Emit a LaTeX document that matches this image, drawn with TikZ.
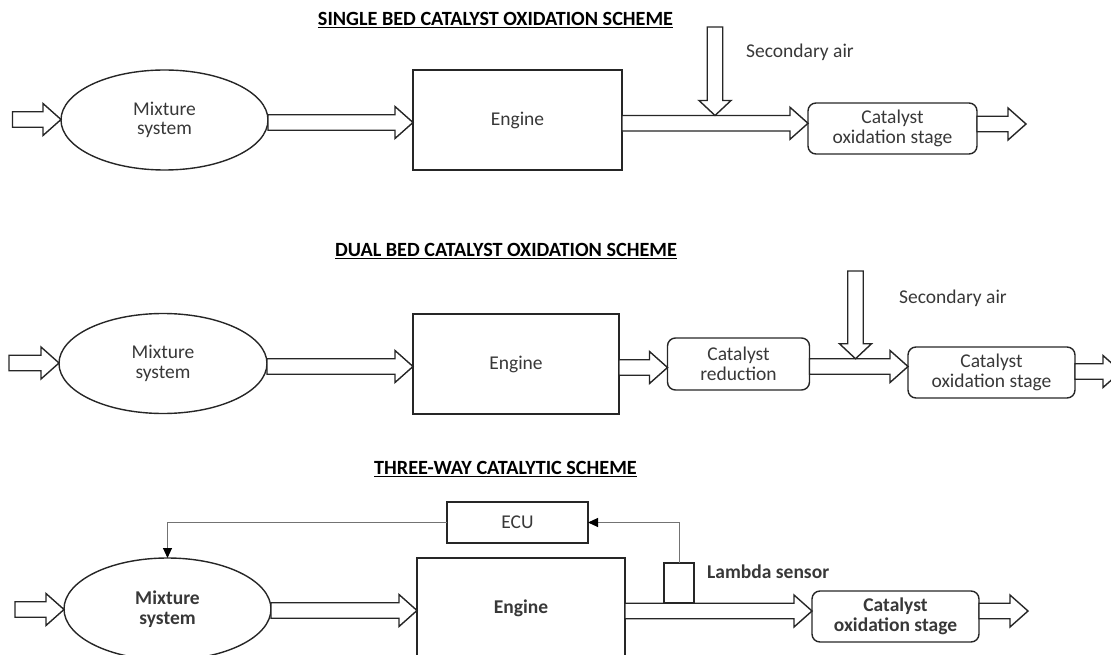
\documentclass[tikz,border=0pt]{standalone}
\usepackage{fontspec}
\setmainfont{Carlito}
\usetikzlibrary{shapes.geometric,arrows.meta,calc}
\tikzset{
  base/.style={draw=black!85, line width=1.4pt, inner sep=0pt, outer sep=0pt, align=center,
    font=\fontsize{19.5}{19.5}\selectfont, text=black!78},
  ell/.style={base, ellipse, minimum width=207pt, minimum height=100pt},
  blk/.style={base, rectangle},
  rbox/.style={base, rectangle, rounded corners=8pt},
  bld/.style={font=\bfseries\fontsize{19.5}{19.5}\selectfont},
  fat/.style={draw=black!85, line width=1.4pt, fill=white, line join=miter},
  ttl/.style={font=\bfseries\fontsize{20.2}{21}\selectfont, text=black, inner sep=0pt},
  lbl/.style={font=\fontsize{19.5}{20}\selectfont, text=black!78, inner sep=0pt},
  ctrl/.style={draw=black!55, line width=1pt, -{Triangle[length=10pt,width=9pt,color=black]}},
}
\newcommand\harr[2]{%
  \draw[fat] let \p1=#1, \p2=#2 in
    (\x1,\y1+7.75pt) -- (\x2-18pt,\y1+7.75pt) -- (\x2-18pt,\y1+16pt) -- (\x2,\y1)
    -- (\x2-18pt,\y1-16pt) -- (\x2-18pt,\y1-7.75pt) -- (\x1,\y1-7.75pt) -- cycle;}
\newcommand\varr[2]{%
  \draw[fat] let \p1=#1, \p2=#2 in
    (\x2-7.75pt,\y1) -- (\x2-7.75pt,\y2+15pt) -- (\x2-16pt,\y2+15pt) -- (\x2,\y2)
    -- (\x2+16pt,\y2+15pt) -- (\x2+7.75pt,\y2+15pt) -- (\x2+7.75pt,\y1) -- cycle;}
\begin{document}
\begin{tikzpicture}[x=1pt,y=-1pt]
\useasboundingbox (0,0) rectangle (1111,655);
\clip (0,0) rectangle (1111,655);

% ---------------- Row 1: single bed
\node[ttl] (t1) at (495.5,20) {\underline{SINGLE BED CATALYST OXIDATION SCHEME}};
\coordinate (in1) at (12.5,119.5);
\node[ell] (m1) at (164.5,120) {Mixture\\system};
\node[blk, minimum width=209pt, minimum height=100pt] (e1) at (517.5,120) {Engine};
\node[rbox, minimum width=169pt, minimum height=51pt] (c1) at (892.5,128.5) {Catalyst\\oxidation stage};
\coordinate (out1) at (1026,124);
\coordinate (sa1) at (715,27);
\coordinate (j1) at (715,115.5);
\node[lbl, anchor=west] (sal1) at (746,52) {Secondary air};
\harr{(in1)}{(m1.west)}
\harr{($(m1.east)+(0,2.5)$)}{(e1.west)}
\harr{($(e1.east)+(0,3.3)$)}{(c1.west)}
\harr{($(c1.east)+(0,-4.5)$)}{(out1)}
\varr{(sa1)}{(j1)}

% ---------------- Row 2: dual bed
\node[ttl] (t2) at (506,251) {\underline{DUAL BED CATALYST OXIDATION SCHEME}};
\coordinate (in2) at (9,363);
\node[ell, minimum width=208pt] (m2) at (163,363.5) {Mixture\\system};
\node[blk, minimum width=206pt, minimum height=100pt] (e2) at (516,364) {Engine};
\node[rbox, minimum width=142pt, minimum height=52pt] (r2) at (738.5,364) {Catalyst\\reduction};
\node[rbox, minimum width=167pt, minimum height=51pt] (c2) at (991.5,372.5) {Catalyst\\oxidation stage};
\coordinate (out2) at (1121,371.5);
\coordinate (sa2) at (855.5,271);
\coordinate (j2) at (855.5,358.75);
\node[lbl, anchor=west] (sal2) at (899,298) {Secondary air};
\harr{(in2)}{(m2.west)}
\harr{($(m2.east)+(0,3)$)}{(e2.west)}
\harr{($(e2.east)+(0,3.5)$)}{(r2.west)}
\harr{($(r2.east)+(0,2.5)$)}{(c2.west)}
\harr{($(c2.east)+(0,-1)$)}{(out2)}
\varr{(sa2)}{(j2)}

% ---------------- Row 3: three-way
\node[ttl] (t3) at (505.5,469) {\underline{THREE-WAY CATALYTIC SCHEME}};
\node[blk, minimum width=141pt, minimum height=41pt] (ecu) at (517.5,522.5) {ECU};
\coordinate (in3) at (15,609.5);
\node[ell, bld, minimum height=102pt] (m3) at (167.5,609) {Mixture\\system};
\node[blk, bld, minimum width=208pt, minimum height=100pt] (e3) at (521,608) {Engine};
\node[rbox, bld, minimum width=167pt, minimum height=51pt] (c3) at (895.5,616.5) {Catalyst\\oxidation stage};
\coordinate (out3) at (1028,611);
\harr{(in3)}{(m3.west)}
\harr{($(m3.east)+(0,1.5)$)}{(e3.west)}
\harr{($(e3.east)+(0,3)$)}{(c3.west)}
\harr{($(c3.east)+(0,-5.5)$)}{(out3)}
\node[blk, minimum width=30pt, minimum height=40pt] (ls) at (679,583) {};
\node[lbl, anchor=west, font=\bfseries\fontsize{19.5}{20}\selectfont] (lsl) at (707,572) {Lambda sensor};
\draw[ctrl] (ls.north) |- (ecu.east);
\draw[ctrl] (ecu.west) -| (m3.north);
\end{tikzpicture}
\end{document}
